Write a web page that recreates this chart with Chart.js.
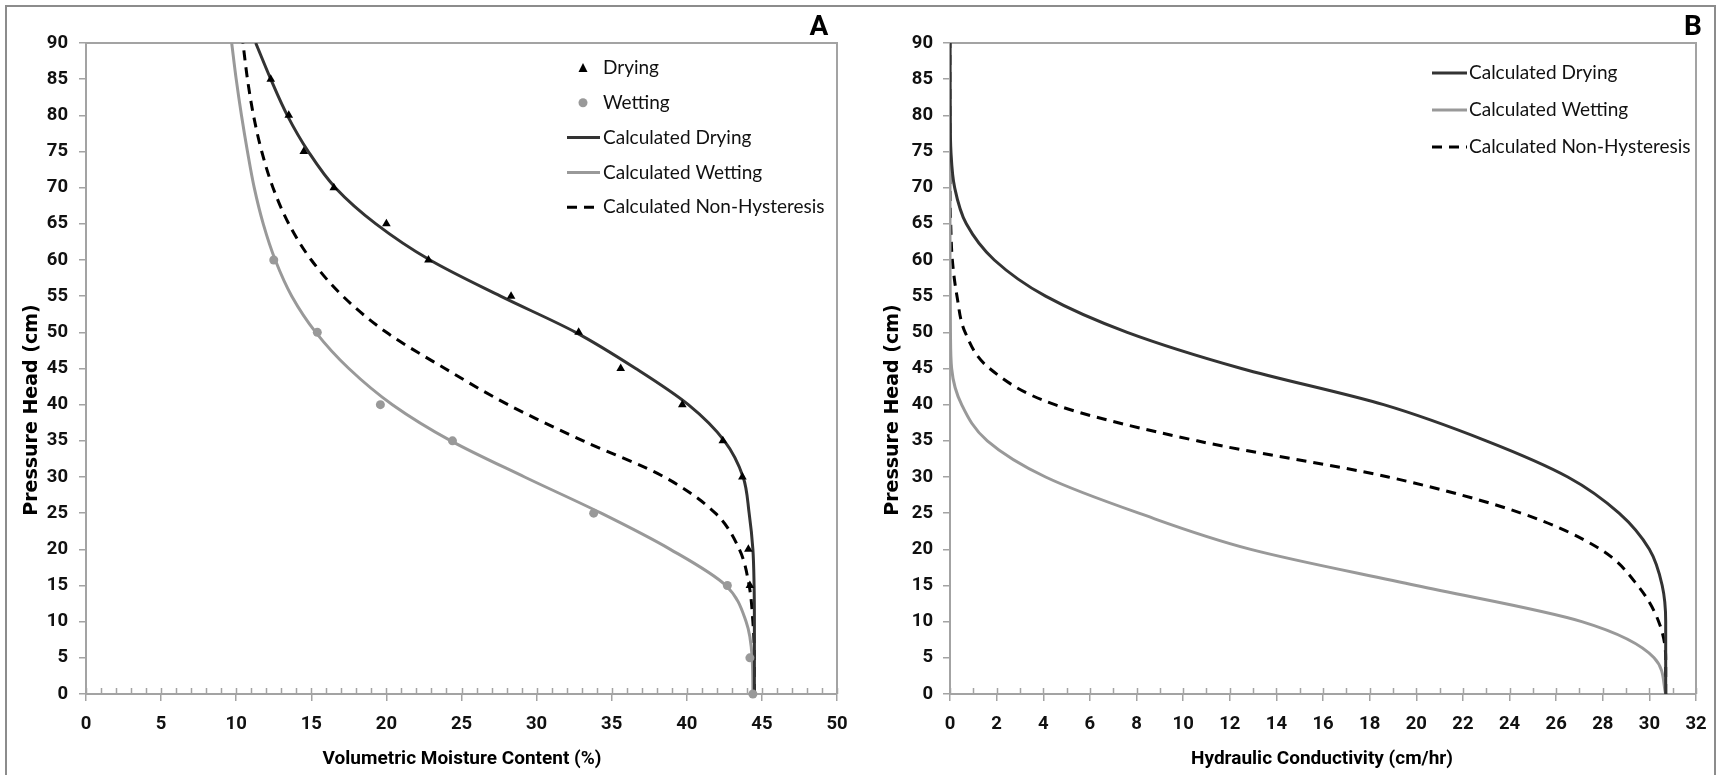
<!DOCTYPE html>
<html>
<head>
<meta charset="utf-8">
<title>Pressure head vs moisture content and conductivity</title>
<script src="https://cdn.jsdelivr.net/npm/chart.js@4.4.0/dist/chart.umd.min.js"></script>
<style>
  html, body { margin: 0; padding: 0; background: #fff; }
  body { width: 1721px; height: 775px; position: relative; overflow: hidden; }
  .frame { position: absolute; left: 5px; top: 5px; width: 1711px; height: 800px; border: 2px solid #8c8c8c; box-sizing: border-box; }
  canvas { position: absolute; top: 0; }
  #chartA { left: 0; }
  #chartB { left: 860px; }
</style>
</head>
<body>
<div class="frame"></div>
<canvas id="chartA" width="860" height="775"></canvas>
<canvas id="chartB" width="861" height="775"></canvas>
<script>
// ---- panel A: measured points ----
const dryingHead = [85, 80, 75, 70, 65, 60, 55, 50, 45, 40, 35, 30, 20, 15];
const dryingTheta = [12.3, 13.5, 14.5, 16.5, 20.0, 22.8, 28.3, 32.8, 35.6, 39.7, 42.4, 43.7, 44.1, 44.2];
const wettingHead = [60, 50, 40, 35, 25, 15, 5, 0];
const wettingTheta = [12.5, 15.4, 19.6, 24.4, 33.8, 42.7, 44.2, 44.4];

// ---- calculated curves, read at these heads (cm) ----
const curveHead = [0, 5, 10, 15, 20, 25, 30, 35, 40, 45, 50, 55, 60, 65, 70, 75, 80, 85, 90];

// panel A: moisture content (%)
const thetaDryCalc = [44.5, 44.5, 44.5, 44.48, 44.4, 44.15, 43.75, 42.5, 40.1, 36.6, 32.6, 27.6, 22.9, 19.3, 16.6, 14.8, 13.4, 12.3, 11.3];
const thetaWetCalc = [44.4, 44.35, 43.95, 42.6, 38.9, 34.3, 29.2, 24.3, 20.4, 17.5, 15.3, 13.7, 12.6, 11.8, 11.2, 10.75, 10.35, 10.0, 9.7];
const thetaNonHyst = [44.5, 44.5, 44.4, 44.15, 43.5, 41.9, 38.5, 33.1, 28.1, 23.9, 20.0, 17.1, 15.0, 13.5, 12.45, 11.7, 11.15, 10.75, 10.45];

// panel B: hydraulic conductivity (cm/hr)
const kDryCalc = [30.7, 30.7, 30.7, 30.55, 30.0, 28.7, 26.5, 23.0, 18.6, 12.5, 7.6, 4.1, 1.9, 0.7, 0.2, 0.04, 0.01, 0, 0];
const kWetCalc = [30.7, 30.2, 27.1, 20.0, 12.9, 8.1, 4.1, 1.6, 0.5, 0.07, 0.02, 0.01, 0, 0, 0, 0, 0, 0, 0];
const kNonHyst = [30.7, 30.7, 30.4, 29.5, 27.9, 24.5, 18.8, 10.6, 4.5, 1.7, 0.65, 0.3, 0.1, 0.03, 0, 0, 0, 0, 0];

// axis ranges and tick steps
const headTicks = { min: 0, max: 90, step: 5 };
const thetaTicks = { min: 0, max: 50, step: 5 };
const kTicks = { min: 0, max: 32, step: 2 };

const AXIS_GREY = '#a3a3a3';
const DARK = '#333333';
const LIGHT = '#999999';
const BODY_FONT = 'Lato, "Liberation Sans", sans-serif';
const BOLD_FONT = 'Roboto, "Liberation Sans", sans-serif';
const WIDE = '"DejaVu Sans", "Liberation Sans", sans-serif';

const toPoints = (xs, ys) => xs.map((x, i) => ({ x: x, y: ys[i] }));

function curve(label, xs, color, dash) {
  return {
    type: 'line',
    label: label,
    data: toPoints(xs, curveHead),
    indexAxis: 'y',
    cubicInterpolationMode: 'monotone',
    borderColor: color,
    borderWidth: 3,
    borderDash: dash || [],
    pointRadius: 0,
    fill: false
  };
}

// draws the plot frame, minor ticks, axis titles, panel letter and legend
function panelDecor(cfg) {
  return {
    id: 'panelDecor',
    beforeDatasetsDraw(chart) {
      const { ctx, chartArea: a } = chart;
      const xs = chart.scales.x;
      ctx.save();
      ctx.strokeStyle = AXIS_GREY;
      ctx.lineWidth = 2;
      ctx.beginPath();
      ctx.moveTo(a.left, a.top);
      ctx.lineTo(a.right, a.top);
      ctx.lineTo(a.right, a.bottom);
      ctx.stroke();
      ctx.lineWidth = 1.5;
      ctx.beginPath();
      for (let v = xs.min; v <= xs.max; v += 1) {
        const px = Math.round(xs.getPixelForValue(v)) + 0.5;
        ctx.moveTo(px, a.bottom);
        ctx.lineTo(px, a.bottom - 6);
      }
      ctx.stroke();
      ctx.restore();
    },
    afterDraw(chart) {
      const ctx = chart.ctx;
      ctx.save();
      ctx.fillStyle = '#000';
      ctx.textBaseline = 'middle';

      // y title
      ctx.save();
      ctx.translate(cfg.yTitle.x, cfg.yTitle.y);
      ctx.rotate(-Math.PI / 2);
      ctx.textAlign = 'center';
      ctx.font = 'bold 19px ' + WIDE;
      ctx.fillText(cfg.yTitle.text, 0, 0);
      ctx.restore();

      // x title
      ctx.textAlign = 'center';
      ctx.font = 'bold 19px ' + BOLD_FONT;
      ctx.fillText(cfg.xTitle.text, cfg.xTitle.x, cfg.xTitle.y);

      // panel letter
      ctx.font = 'bold 28px ' + BOLD_FONT;
      ctx.fillText(cfg.letter.text, cfg.letter.x, cfg.letter.y);

      // legend
      const lg = cfg.legend;
      ctx.textAlign = 'left';
      ctx.font = '19px ' + BODY_FONT;
      lg.items.forEach((it, i) => {
        const y = lg.y + i * lg.gap;
        if (it.kind === 'triangle') {
          const cx = lg.markX;
          ctx.fillStyle = it.color;
          ctx.beginPath();
          ctx.moveTo(cx, y - 5);
          ctx.lineTo(cx + 4.5, y + 4);
          ctx.lineTo(cx - 4.5, y + 4);
          ctx.closePath();
          ctx.fill();
        } else if (it.kind === 'dot') {
          ctx.fillStyle = it.color;
          ctx.beginPath();
          ctx.arc(lg.markX, y, 4.5, 0, Math.PI * 2);
          ctx.fill();
        } else {
          ctx.strokeStyle = it.color;
          ctx.lineWidth = 3;
          ctx.setLineDash(it.dash || []);
          ctx.beginPath();
          ctx.moveTo(lg.lineX0, y);
          ctx.lineTo(lg.lineX1, y);
          ctx.stroke();
          ctx.setLineDash([]);
        }
        ctx.fillStyle = '#111';
        ctx.fillText(it.label, lg.textX, y);
      });
      ctx.restore();
    }
  };
}

function scaleCfg(range, fixedSize, isY, pad) {
  return {
    type: 'linear',
    min: range.min,
    max: range.max,
    border: { display: true, color: AXIS_GREY, width: 2 },
    grid: { display: true, drawOnChartArea: false, drawTicks: true, tickLength: 7, color: AXIS_GREY, lineWidth: 1.5 },
    ticks: {
      stepSize: range.step,
      padding: pad,
      autoSkip: false,
      maxRotation: 0,
      color: '#111',
      font: { family: BOLD_FONT, size: 18.5, weight: 'bold' }
    },
    afterFit(scale) {
      if (isY) scale.width = fixedSize; else scale.height = fixedSize;
    }
  };
}

function baseOptions(rightPad) {
  return {
    responsive: false,
    animation: false,
    devicePixelRatio: 1,
    layout: { padding: { top: 43, right: rightPad, bottom: 0, left: 0 } },
    plugins: { legend: { display: false }, tooltip: { enabled: false } },
    scales: {}
  };
}

// ---- Panel A ----
const optsA = baseOptions(23);
optsA.scales.x = scaleCfg(thetaTicks, 81, false, 12);
optsA.scales.y = scaleCfg(headTicks, 86, true, 11);

new Chart(document.getElementById('chartA'), {
  type: 'scatter',
  data: {
    datasets: [
      {
        label: 'Drying',
        data: toPoints(dryingTheta, dryingHead),
        pointStyle: 'triangle',
        pointRadius: 5,
        backgroundColor: '#000',
        borderColor: '#000',
        borderWidth: 0,
        clip: false
      },
      {
        label: 'Wetting',
        data: toPoints(wettingTheta, wettingHead),
        pointStyle: 'circle',
        pointRadius: 4.5,
        backgroundColor: LIGHT,
        borderColor: LIGHT,
        borderWidth: 0,
        clip: false
      },
      curve('Calculated Drying', thetaDryCalc, DARK),
      curve('Calculated Wetting', thetaWetCalc, LIGHT),
      curve('Calculated Non-Hysteresis', thetaNonHyst, '#000', [10, 7])
    ]
  },
  options: optsA,
  plugins: [panelDecor({
    yTitle: { text: 'Pressure Head (cm)', x: 32, y: 410 },
    xTitle: { text: 'Volumetric Moisture Content (%)', x: 462, y: 759 },
    letter: { text: 'A', x: 819, y: 28 },
    legend: {
      y: 68, gap: 34.8, markX: 583, lineX0: 567, lineX1: 600, textX: 603,
      items: [
        { label: 'Drying', kind: 'triangle', color: '#000' },
        { label: 'Wetting', kind: 'dot', color: LIGHT },
        { label: 'Calculated Drying', kind: 'line', color: DARK },
        { label: 'Calculated Wetting', kind: 'line', color: LIGHT },
        { label: 'Calculated Non-Hysteresis', kind: 'line', color: '#000', dash: [10, 7] }
      ]
    }
  })]
});

// ---- Panel B ----
const optsB = baseOptions(25);
optsB.scales.x = scaleCfg(kTicks, 81, false, 12);
optsB.scales.y = scaleCfg(headTicks, 90, true, 10);

new Chart(document.getElementById('chartB'), {
  type: 'scatter',
  data: {
    datasets: [
      curve('Calculated Drying', kDryCalc, DARK),
      curve('Calculated Wetting', kWetCalc, LIGHT),
      curve('Calculated Non-Hysteresis', kNonHyst, '#000', [10, 7])
    ]
  },
  options: optsB,
  plugins: [panelDecor({
    yTitle: { text: 'Pressure Head (cm)', x: 33, y: 410 },
    xTitle: { text: 'Hydraulic Conductivity (cm/hr)', x: 462, y: 759 },
    letter: { text: 'B', x: 833, y: 28 },
    legend: {
      y: 73, gap: 37, markX: 590, lineX0: 572, lineX1: 607, textX: 609,
      items: [
        { label: 'Calculated Drying', kind: 'line', color: DARK },
        { label: 'Calculated Wetting', kind: 'line', color: LIGHT },
        { label: 'Calculated Non-Hysteresis', kind: 'line', color: '#000', dash: [10, 7] }
      ]
    }
  })]
});
</script>
</body>
</html>
